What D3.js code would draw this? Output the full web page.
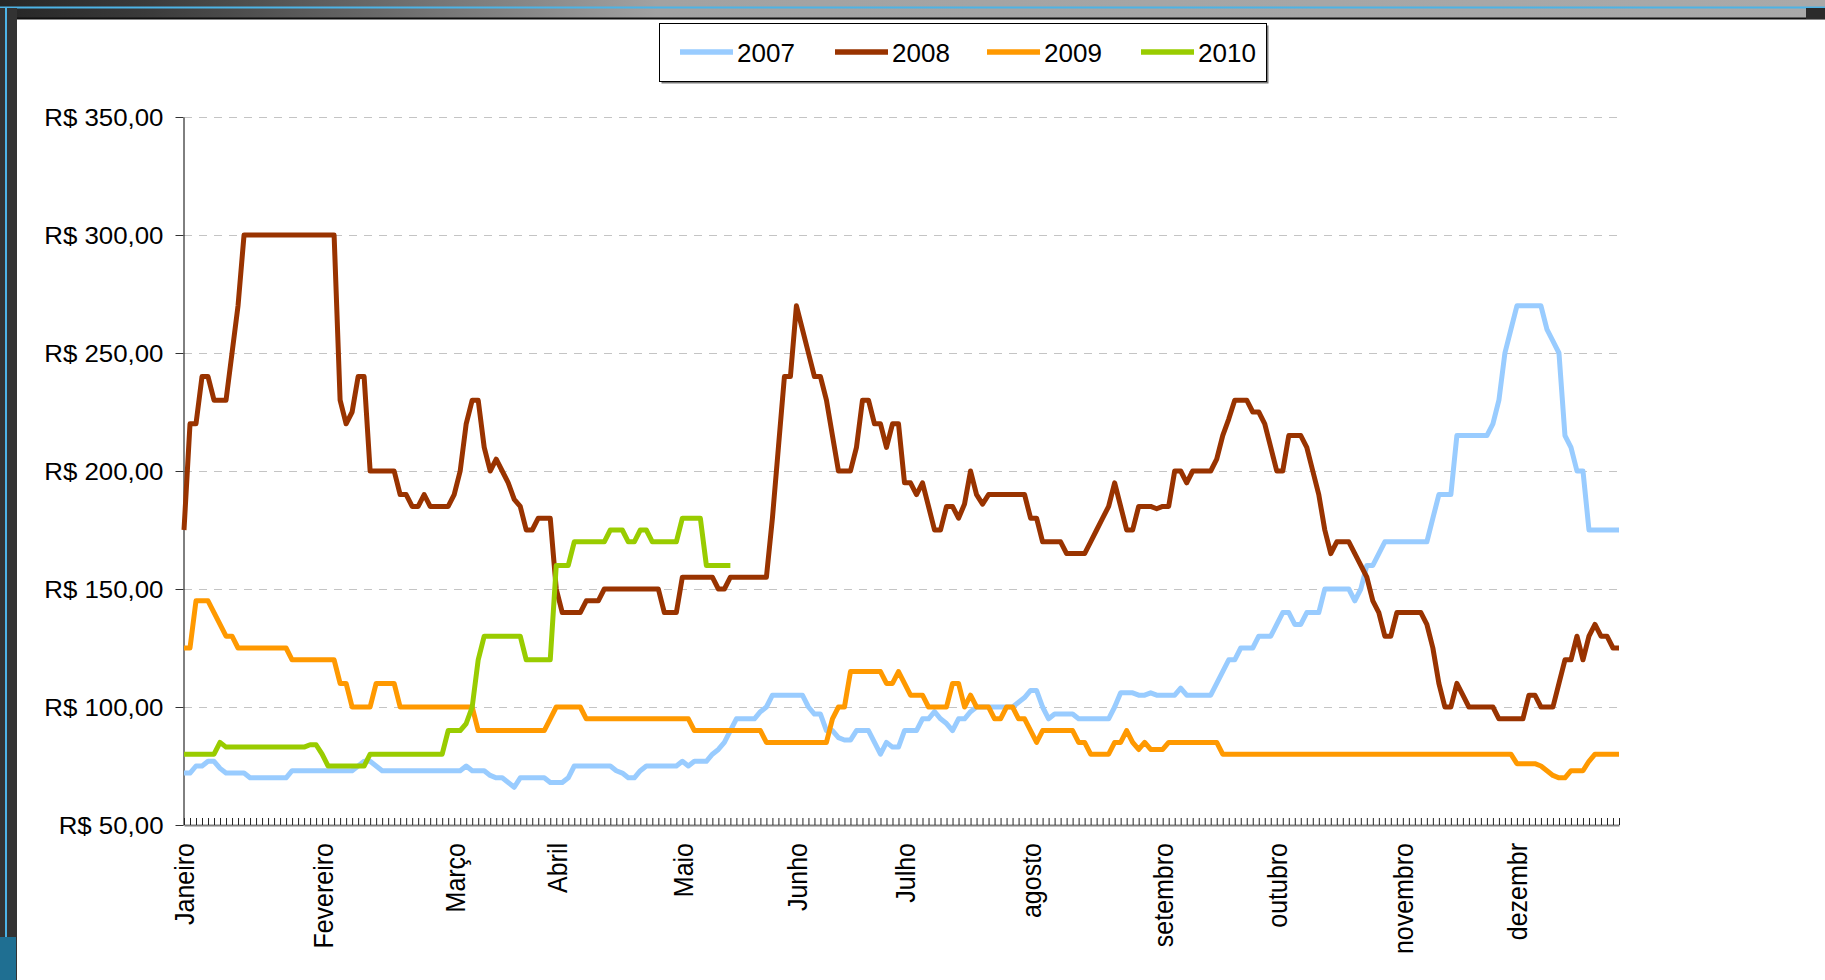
<!DOCTYPE html>
<html lang="pt">
<head>
<meta charset="utf-8">
<title>Preços 2007 - 2010</title>
<script src="https://cdn.jsdelivr.net/npm/d3@7"></script>
<style>
  html,body{margin:0;padding:0;background:#fff;overflow:hidden}
  svg{display:block;font-family:"Liberation Sans",Arial,sans-serif}
</style>
</head>
<body>
<svg id="chart" width="1825" height="980"></svg>
<script>
// ── data ──
const nPoints = 240;
const months = ['Janeiro','Fevereiro','Março','Abril','Maio','Junho','Julho','agosto','setembro','outubro','novembro','dezembr'];
const monthStart = [0, 23, 45, 62, 83, 102, 120, 141, 163, 182, 203, 222];
const yTicks = [50, 100, 150, 200, 250, 300, 350];
const years = ['2007', '2008', '2009', '2010'];
const colors = ['#99ccff', '#993300', '#ff9900', '#99cc00'];

const s2007 = [
  72,72,75,75,77,77,74,72,72,72,
  72,70,70,70,70,70,70,70,73,73,
  73,73,73,73,73,73,73,73,73,75,
  77,77,75,73,73,73,73,73,73,73,
  73,73,73,73,73,73,73,75,73,73,
  73,71,70,70,68,66,70,70,70,70,
  70,68,68,68,70,75,75,75,75,75,
  75,75,73,72,70,70,73,75,75,75,
  75,75,75,77,75,77,77,77,80,82,
  85,90,95,95,95,95,98,100,105,105,
  105,105,105,105,100,97,97,90,90,87,
  86,86,90,90,90,85,80,85,83,83,
  90,90,90,95,95,98,95,93,90,95,
  95,98,100,100,100,100,100,100,100,102,
  104,107,107,100,95,97,97,97,97,95,
  95,95,95,95,95,100,106,106,106,105,
  105,106,105,105,105,105,108,105,105,105,
  105,105,110,115,120,120,125,125,125,130,
  130,130,135,140,140,135,135,140,140,140,
  150,150,150,150,150,145,150,160,160,165,
  170,170,170,170,170,170,170,170,180,190,
  190,190,215,215,215,215,215,215,220,230,
  250,260,270,270,270,270,270,260,255,250,
  215,210,200,200,175,175,175,175,175,175
];
const s2008 = [
  175,220,220,240,240,230,230,230,250,270,
  300,300,300,300,300,300,300,300,300,300,
  300,300,300,300,300,300,230,220,225,240,
  240,200,200,200,200,200,190,190,185,185,
  190,185,185,185,185,190,200,220,230,230,
  210,200,205,200,195,188,185,175,175,180,
  180,180,150,140,140,140,140,145,145,145,
  150,150,150,150,150,150,150,150,150,150,
  140,140,140,155,155,155,155,155,155,150,
  150,155,155,155,155,155,155,155,180,210,
  240,240,270,260,250,240,240,230,215,200,
  200,200,210,230,230,220,220,210,220,220,
  195,195,190,195,185,175,175,185,185,180,
  186,200,190,186,190,190,190,190,190,190,
  190,180,180,170,170,170,170,165,165,165,
  165,170,175,180,185,195,185,175,175,185,
  185,185,184,185,185,200,200,195,200,200,
  200,200,205,215,222,230,230,230,225,225,
  220,210,200,200,215,215,215,210,200,190,
  175,165,170,170,170,165,160,155,145,140,
  130,130,140,140,140,140,140,135,125,110,
  100,100,110,105,100,100,100,100,100,95,
  95,95,95,95,105,105,100,100,100,110,
  120,120,130,120,130,135,130,130,125,125
];
const s2009 = [
  125,125,145,145,145,140,135,130,130,125,
  125,125,125,125,125,125,125,125,120,120,
  120,120,120,120,120,120,110,110,100,100,
  100,100,110,110,110,110,100,100,100,100,
  100,100,100,100,100,100,100,100,100,90,
  90,90,90,90,90,90,90,90,90,90,
  90,95,100,100,100,100,100,95,95,95,
  95,95,95,95,95,95,95,95,95,95,
  95,95,95,95,95,90,90,90,90,90,
  90,90,90,90,90,90,90,85,85,85,
  85,85,85,85,85,85,85,85,95,100,
  100,115,115,115,115,115,115,110,110,115,
  110,105,105,105,100,100,100,100,110,110,
  100,105,100,100,100,95,95,100,100,95,
  95,90,85,90,90,90,90,90,90,85,
  85,80,80,80,80,85,85,90,85,82,
  85,82,82,82,85,85,85,85,85,85,
  85,85,85,80,80,80,80,80,80,80,
  80,80,80,80,80,80,80,80,80,80,
  80,80,80,80,80,80,80,80,80,80,
  80,80,80,80,80,80,80,80,80,80,
  80,80,80,80,80,80,80,80,80,80,
  80,80,76,76,76,76,75,73,71,70,
  70,73,73,73,77,80,80,80,80,80
];
const s2010 = [
  80,80,80,80,80,80,85,83,83,83,
  83,83,83,83,83,83,83,83,83,83,
  83,84,84,80,75,75,75,75,75,75,
  75,80,80,80,80,80,80,80,80,80,
  80,80,80,80,90,90,90,93,100,120,
  130,130,130,130,130,130,130,120,120,120,
  120,120,160,160,160,170,170,170,170,170,
  170,175,175,175,170,170,175,175,170,170,
  170,170,170,180,180,180,180,160,160,160,
  160,160
];
const seriesData = [s2007, s2008, s2009, s2010];

// ── setup ──
const W = 1825, H = 980;
const plot = { x0: 184, x1: 1619, y0: 117, y1: 825 };
const svg = d3.select('#chart');

// window frame around the slide
const grad = svg.append('defs').append('linearGradient').attr('id', 'topbar')
  .attr('x1', 0).attr('x2', 1).attr('y1', 0).attr('y2', 0);
[[0, '#262626'], [0.08, '#3a3a3a'], [0.36, '#a2a2a2'], [1, '#a9a9a9']]
  .forEach(([o, c]) => grad.append('stop').attr('offset', o).attr('stop-color', c));
svg.append('rect').attr('width', W).attr('height', 19).attr('fill', 'url(#topbar)');
svg.append('rect').attr('y', 6.5).attr('width', W).attr('height', 2).attr('fill', '#4db3e6');
svg.append('rect').attr('y', 17.5).attr('width', W).attr('height', 2).attr('fill', '#111');
svg.append('rect').attr('x', 0).attr('y', 8).attr('width', 17).attr('height', H - 8).attr('fill', '#333');
svg.append('rect').attr('x', 5).attr('y', 8).attr('width', 2).attr('height', H - 8).attr('fill', '#4db3e6');
svg.append('rect').attr('x', 0).attr('y', 937).attr('width', 16).attr('height', 43).attr('fill', '#1f6f92');
svg.append('rect').attr('x', 1806).attr('y', 8).attr('width', 19).attr('height', 11).attr('fill', '#2b2b2b');

// scales
const x = d3.scalePoint().domain(d3.range(nPoints)).range([plot.x0, plot.x1]);
const y = d3.scaleLinear().domain([50, 350]).range([plot.y1, plot.y0]);

// dashed gridlines
svg.append('g').selectAll('line').data(yTicks.slice(1)).enter().append('line')
  .attr('x1', plot.x0).attr('x2', plot.x1)
  .attr('y1', d => Math.round(y(d)) + 0.5).attr('y2', d => Math.round(y(d)) + 0.5)
  .attr('stroke', '#c4c4c4').attr('stroke-width', 1).attr('stroke-dasharray', '8,7');

// y axis
const fmt = v => 'R$ ' + v.toFixed(2).replace('.', ',');
const yAxis = svg.append('g').attr('transform', `translate(${plot.x0 - 0.5},0)`)
  .call(d3.axisLeft(y).tickValues(yTicks).tickSizeInner(8).tickSizeOuter(0).tickFormat(fmt));
yAxis.select('.domain').attr('stroke', '#000');
yAxis.selectAll('.tick line').attr('stroke', '#333');
yAxis.selectAll('.tick text')
  .attr('x', 0).attr('dy', '0.36em').attr('text-anchor', 'end')
  .attr('transform', 'translate(-20,0) scale(1.1,1)')
  .attr('fill', '#000').style('font-size', '23.5px').style('font-family', '"Liberation Sans",Arial,sans-serif');

// x axis: one tick per point, pointing up into the plot
const xAxis = svg.append('g').attr('transform', `translate(0,${plot.y1})`)
  .call(d3.axisBottom(x).tickValues(d3.range(nPoints)).tickSizeInner(-7).tickSizeOuter(0).tickFormat(''));
xAxis.select('.domain').attr('stroke', '#808080').attr('stroke-width', 2);
xAxis.selectAll('.tick line').attr('stroke', '#222');

// month labels
const xLab = svg.append('g').attr('transform', `translate(0,${plot.y1})`)
  .call(d3.axisBottom(x).tickValues(monthStart).tickSize(0).tickFormat((d, i) => months[i]));
xLab.select('.domain').remove();
xLab.selectAll('.tick text')
  .attr('x', 0).attr('y', 0).attr('dy', '0.36em').attr('text-anchor', 'end')
  .attr('transform', 'translate(0,18) scale(1.1,1) rotate(-90)')
  .attr('fill', '#000').style('font-size', '25px').style('font-family', '"Liberation Sans",Arial,sans-serif');

// series lines, 2010 drawn last (on top)
const line = d3.line().x((d, i) => x(i)).y(d => y(d));
seriesData.forEach((s, k) => {
  svg.append('path').datum(s).attr('d', line)
    .attr('fill', 'none').attr('stroke', colors[k]).attr('stroke-width', 5)
    .attr('stroke-linejoin', 'round');
});

// legend
const lg = svg.append('g');
lg.append('rect').attr('x', 661.5).attr('y', 25.5).attr('width', 607).attr('height', 58).attr('fill', '#7a7a7a');
lg.append('rect').attr('x', 659.5).attr('y', 23.5).attr('width', 607).attr('height', 58)
  .attr('fill', '#fff').attr('stroke', '#000').attr('stroke-width', 1);
const legX = [680, 835, 987, 1141];
years.forEach((yr, k) => {
  lg.append('line').attr('x1', legX[k]).attr('x2', legX[k] + 53).attr('y1', 52).attr('y2', 52)
    .attr('stroke', colors[k]).attr('stroke-width', 5.5);
  lg.append('text').attr('x', legX[k] + 57).attr('y', 61.5)
    .attr('fill', '#000').style('font-size', '26px').text(yr);
});
</script>
</body>
</html>
